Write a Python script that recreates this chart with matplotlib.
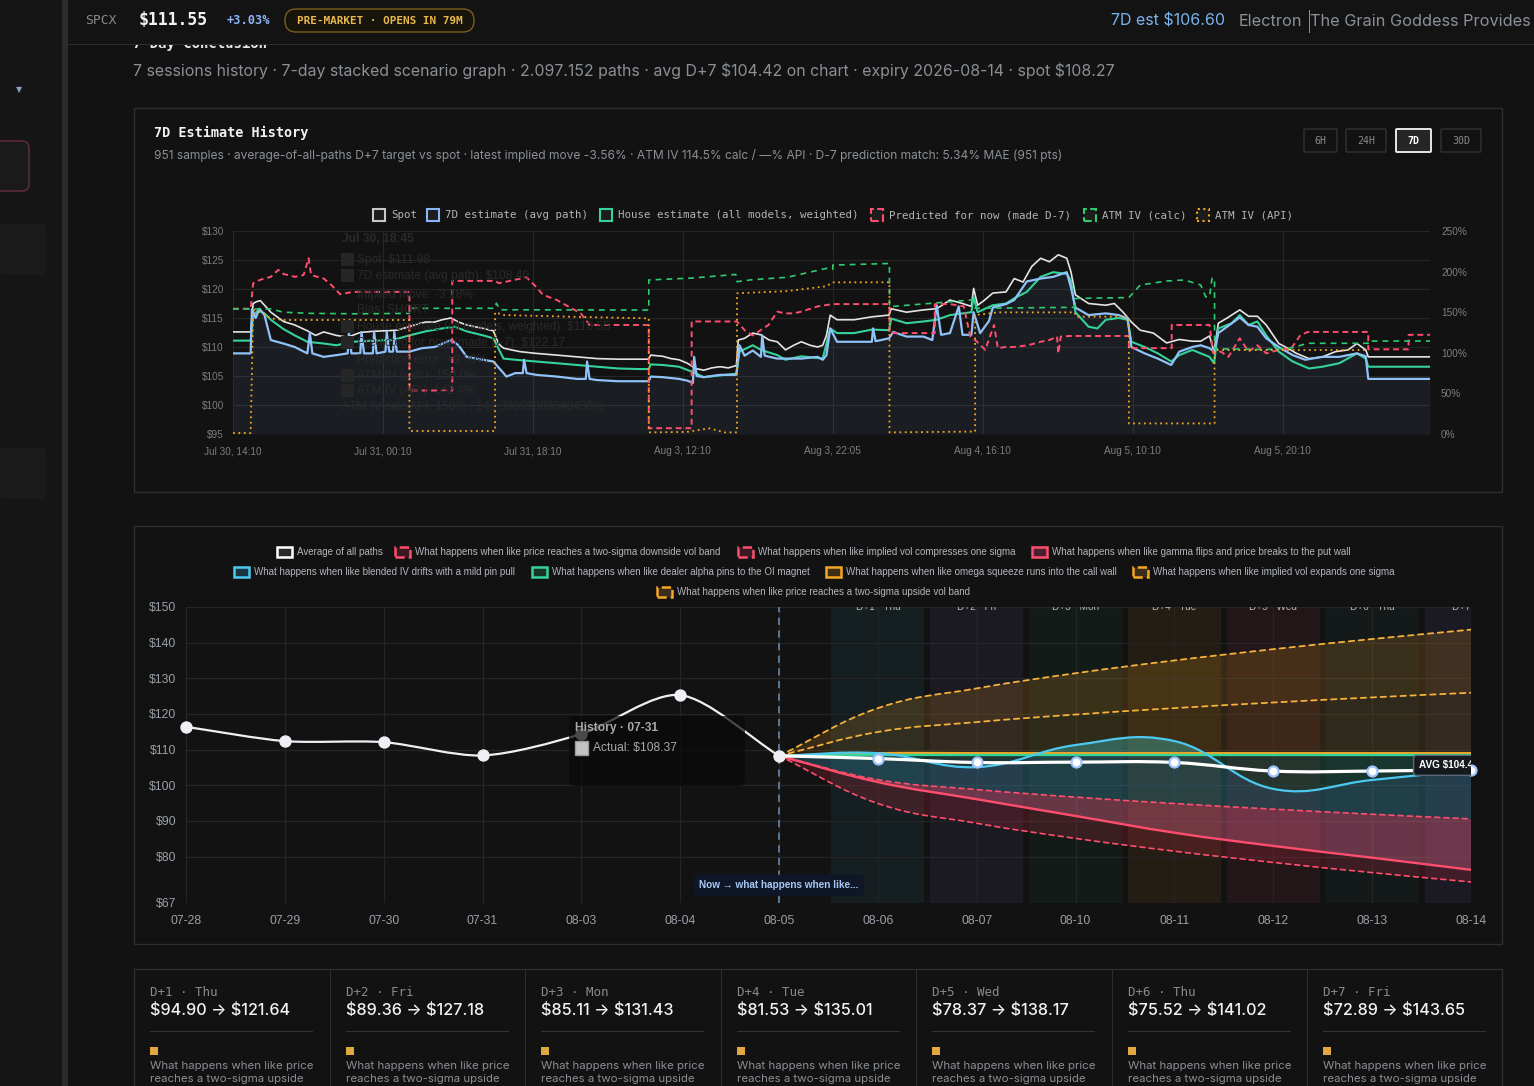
import matplotlib
matplotlib.use('Agg')
import matplotlib.pyplot as plt
from matplotlib.patches import Rectangle, FancyBboxPatch, PathPatch
from matplotlib.path import Path
from matplotlib.transforms import IdentityTransform

# ---------------- DATA ----------------
# Chart 1: 7D estimate history (sample index, value)
x1_ticks = [0, 119, 238, 357, 476, 595, 714, 833]
x1_labels = ['Jul 30, 14:10', 'Jul 31, 00:10', 'Jul 31, 18:10', 'Aug 3, 12:10',
             'Aug 3, 22:05', 'Aug 4, 16:10', 'Aug 5, 10:10', 'Aug 5, 20:10']
y1_ticks = [95, 100, 105, 110, 115, 120, 125, 130]
y1r_ticks = [0, 50, 100, 150, 200, 250]

spot = [(0, 112.6), (14, 112.6), (16, 117.5), (18.5, 117.8), (21.7, 118.0), (25, 117.2), (30, 116.0),
        (40, 114.4), (49, 113.8), (59, 112.8), (65.5, 112.0), (72, 112.6), (82, 112.0), (91, 111.7),
        (101, 112.5), (111, 112.7), (121, 112.8), (130, 112.9), (140, 113.5), (147, 114.0), (153, 114.3),
        (160, 114.3), (166, 114.7), (173, 115.0), (179, 114.3), (185.5, 113.8), (192, 113.5), (198.5, 113.2),
        (206.6, 112.8), (211, 110.5), (214.7, 109.8), (221, 109.5), (227.7, 109.2), (240.6, 108.9),
        (257, 108.6), (273, 108.3), (289, 108.0), (305.5, 107.9), (321.7, 107.9), (330, 107.9),
        (331.4, 108.6), (341, 108.4), (347.6, 108.0), (354, 107.8), (360.6, 107.2), (367, 106.3),
        (373.6, 106.0), (380, 106.4), (386.6, 106.6), (393, 106.4), (399.5, 106.8), (401, 111.2),
        (406, 111.5), (412.5, 112.4), (419, 112.1), (425.5, 111.2), (432, 110.9), (438.5, 109.5),
        (445, 110.3), (451, 110.9), (458, 110.3), (464, 110.0), (468, 110.3), (471, 112.0), (474, 115.5),
        (479.4, 114.7), (493, 114.7), (507, 115.2), (520.7, 115.5), (522.4, 116.6), (534.5, 116.0),
        (548, 116.4), (558.5, 116.6), (569, 118.1), (579, 117.5), (586, 117.0), (587.8, 120.1),
        (591, 117.2), (596, 118.0), (603, 119.3), (613.5, 119.5), (620, 121.8), (627, 121.2),
        (634, 123.9), (641, 125.3), (648, 124.7), (655, 125.9), (661.7, 125.3), (665, 123.0),
        (668.6, 119.0), (679, 117.5), (692.7, 117.2), (699.5, 117.5), (706.4, 116.0), (713, 114.3),
        (720, 112.9), (730.5, 112.4), (741, 110.7), (751, 111.3), (761.4, 111.0), (768, 111.0),
        (775, 111.9), (778.6, 109.2), (782, 114.1), (789, 115.0), (799, 116.4), (806, 115.3),
        (813, 115.3), (820, 113.8), (830, 110.6), (837, 109.8), (844, 108.9), (854, 108.0),
        (864.6, 108.3), (875, 109.2), (885, 109.5), (892, 110.6), (899, 109.5), (901, 108.3), (950, 108.3)]

est7d = [(0, 108.9), (14, 108.9), (15, 116.5), (18, 115.0), (21, 116.6), (25, 115.5), (30, 111.2),
         (40, 110.6), (49, 110.0), (59, 108.9), (61, 112.4), (63, 108.9), (72, 108.3), (82, 108.6),
         (91, 108.9), (92, 112.6), (94, 108.9), (101, 108.9), (102, 112.6), (104, 108.9), (111, 108.9),
         (112, 112.6), (114, 108.9), (121, 109.2), (122, 112.6), (124, 109.2), (127, 109.2), (128, 112.6),
         (130, 109.2), (140, 109.2), (150, 109.8), (160, 110.0), (173, 111.2), (179, 110.3),
         (185.5, 108.3), (198.5, 107.8), (206.6, 107.5), (214.7, 105.5), (217, 104.9), (224, 105.5),
         (230, 105.5), (231, 107.8), (233, 105.5), (240.6, 105.2), (257, 104.9), (273, 104.5),
         (280, 104.5), (281, 107.5), (283, 104.5), (289, 104.3), (305.5, 104.1), (321.7, 104.1),
         (330, 104.1), (331.4, 104.9), (341, 104.8), (354, 104.5), (360.6, 104.2), (365, 103.8),
         (366, 108.3), (368, 105.0), (373.6, 104.8), (386.6, 105.2), (399.5, 105.2), (402, 110.3),
         (406, 108.5), (412.5, 109.4), (419, 108.3), (420, 112.0), (422, 108.5), (432, 108.0),
         (451, 108.0), (464, 108.3), (468, 107.8), (471, 108.6), (474, 113.2), (479.4, 110.9),
         (493, 110.9), (507, 110.9), (508, 113.2), (510, 111.0), (520.7, 111.5), (524, 112.6),
         (534.5, 111.8), (548, 111.8), (555, 111.2), (558.5, 117.2), (562, 112.1), (569, 112.4),
         (576, 117.0), (579, 112.1), (586, 112.1), (587.8, 116.0), (593, 112.4), (600, 114.5),
         (603, 116.8), (613.5, 117.4), (620, 118.1), (630, 121.3), (641, 121.8), (651, 122.1),
         (661.7, 122.9), (665, 120.3), (668.6, 116.8), (679, 115.5), (692.7, 115.8), (703, 115.5),
         (710, 114.9), (713, 110.0), (723.6, 108.9), (734, 108.0), (744.6, 106.9), (751, 109.2),
         (761.4, 110.0), (768, 110.3), (775, 109.8), (778.6, 109.2), (782, 112.4), (789, 113.5),
         (799, 115.1), (806, 113.8), (813, 113.5), (820, 111.5), (830, 110.0), (841, 108.6),
         (851, 107.8), (864.6, 108.3), (878, 108.3), (892, 108.9), (899, 108.4), (901, 104.5), (950, 104.5)]

house = [(0, 111.1), (14, 111.1), (16, 115.5), (20, 116.3), (25, 115.8), (30, 114.7), (40, 113.1),
         (49, 112.0), (59, 110.9), (72, 110.6), (82, 110.3), (95, 110.9), (111, 111.1), (127, 111.2),
         (140, 112.0), (153, 112.7), (166, 113.2), (176, 113.5), (185.5, 112.7), (198.5, 112.0),
         (206.6, 111.5), (214.7, 108.0), (224, 107.8), (240.6, 107.5), (257, 107.2), (273, 106.9),
         (289, 106.6), (305.5, 106.3), (321.7, 106.2), (330, 106.2), (331.4, 107.0), (341, 106.9),
         (354, 106.6), (367, 105.5), (373.6, 104.8), (386.6, 105.1), (399.5, 105.4), (402, 109.2),
         (412.5, 110.3), (419, 109.5), (432, 108.6), (438.5, 107.8), (451, 108.4), (464, 108.1),
         (468, 108.0), (474, 113.2), (479.4, 112.4), (493, 112.4), (507, 113.0), (520.7, 112.9),
         (522.4, 114.9), (534.5, 114.1), (548, 114.4), (558.5, 114.7), (569, 115.5), (586, 116.0),
         (587.8, 118.6), (591, 116.0), (603, 117.2), (613.5, 117.5), (620, 118.4), (630, 119.5),
         (641, 122.1), (651, 122.9), (661.7, 122.6), (665, 121.5), (668.6, 116.0), (679, 113.5),
         (686, 113.2), (692.7, 114.7), (703, 115.0), (710, 114.7), (713, 110.9), (723.6, 110.0),
         (734, 108.9), (744.6, 107.5), (751, 108.6), (761.4, 109.5), (768, 108.9), (775, 108.3),
         (778.6, 107.2), (782, 113.2), (792.6, 114.1), (799, 115.5), (806, 113.8), (813, 114.4),
         (820, 112.0), (830, 109.2), (841, 107.5), (854, 106.3), (864.6, 106.6), (878, 107.2),
         (892, 108.9), (899, 108.0), (901, 106.6), (950, 106.6)]

predicted = [(0, 116.6), (14, 116.6), (16, 121.0), (21.7, 121.6), (30, 122.1), (36, 123.3), (40, 122.6),
             (49, 122.1), (56, 122.4), (60, 125.3), (62, 122.4), (72, 121.8), (78, 120.7), (85, 119.1),
             (95, 119.5), (140, 119.5), (140, 102.5), (174, 102.5), (174, 121.4), (208, 121.4),
             (211, 121.0), (224, 121.6), (233, 122.0), (240, 120.5), (246, 119.0), (257, 118.1),
             (266, 117.0), (276, 115.8), (283, 113.8), (330, 113.8), (330, 96.0), (364, 96.0),
             (364, 114.4), (400, 114.4), (406, 112.9), (412.5, 112.0), (425, 113.8), (432, 116.1),
             (438, 115.8), (445, 115.8), (451, 116.1), (464, 117.0), (476, 117.4), (521, 117.4),
             (521, 112.4), (557, 112.4), (557, 117.4), (569, 117.4), (580, 117.0), (585, 111.9),
             (590, 111.0), (597, 109.5), (604, 113.8), (607, 109.8), (613, 110.0), (620, 110.0),
             (631, 110.3), (641, 110.9), (648, 111.2), (654, 111.8), (655, 108.9), (657, 111.8),
             (664, 111.9), (711, 111.9), (711, 109.8), (745, 109.8), (745, 113.8), (775, 113.8),
             (778, 108.9), (784, 109.2), (790, 108.3), (799, 111.5), (806, 109.2), (813, 110.3),
             (820, 108.9), (830, 109.5), (840, 109.8), (847, 112.0), (853, 112.6), (901, 112.6),
             (901, 109.6), (933, 109.6), (933, 112.1), (950, 112.1)]

atm_calc = [(0, 154), (30, 154), (40, 150), (60, 148.6), (100, 148), (140, 148.6), (140, 154.8),
            (208, 154.8), (209, 161), (212, 153), (330, 152.7), (330, 189.7), (364, 192), (399, 196.5),
            (400, 187.6), (412, 190), (440, 193), (471, 204), (476, 202.8), (476, 208), (521, 210),
            (521, 156.8), (586, 165), (589, 154.8), (668, 156), (669, 167), (711, 168), (720, 183.5),
            (741, 188.4), (755, 189.7), (768, 183.5), (772, 169), (775, 169), (777, 191.7), (779, 191.7),
            (779, 105), (820, 104), (840, 106), (853, 111.7), (901, 111.7), (901, 114.5), (950, 114.5)]

atm_api = [(0, 1.2), (14, 1.2), (16, 152.7), (22, 150), (30, 142.4), (40, 140.4), (140, 140.4),
           (140, 3.7), (208, 3.7), (208, 149.8), (215, 146.5), (280, 144), (330, 142.4), (330, 2),
           (360, 2.5), (378, 7), (390, 2), (400, 2), (400, 173.3), (440, 176), (471, 182),
           (476, 186.8), (521, 186.8), (521, 2), (589, 3), (589, 146.5), (607, 149.8), (668, 149.8),
           (669, 144.5), (711, 144.5), (711, 13), (779, 13), (779, 103.4), (901, 103.4)]

tip1_lines = ['Jul 30, 18:45', 'Spot: $111.98', '7D estimate (avg path): $108.40', 'Implied move: -3.18%',
              'Bias: SHORT', 'House estimate (all models, weighted): $110.55',
              'Predicted for now (made D-7): $122.17', 'Prediction error: +9.09%',
              'ATM IV (calc): 150.0%', 'ATM IV (API): 142.4%',
              'ATM IV calc/API: 150% / 142.39999389648438%']

# Chart 2: scenario graph
x2_labels = ['07-28', '07-29', '07-30', '07-31', '08-03', '08-04', '08-05',
             '08-06', '08-07', '08-10', '08-11', '08-12', '08-13', '08-14']
y2_ticks = [67, 80, 90, 100, 110, 120, 130, 140, 150]
history = [116.4, 112.4, 112.1, 108.37, 114.4, 125.3, 108.27]
fc_idx = [6, 7, 8, 9, 10, 11, 12, 13]
avg_path = [108.27, 107.5, 106.4, 106.5, 106.4, 104.0, 104.0, 104.42]
up2 = [108.27, 121.64, 127.18, 131.43, 135.01, 138.17, 141.02, 143.65]
up1 = [108.27, 114.96, 117.73, 119.85, 121.64, 123.22, 124.65, 125.96]
dn1 = [108.27, 101.58, 98.81, 96.69, 94.90, 93.32, 91.89, 90.58]
dn2 = [108.27, 94.90, 89.36, 85.11, 81.53, 78.37, 75.52, 72.89]
put_wall = [108.27, 100.9, 96.1, 91.4, 86.7, 83.0, 79.7, 76.3]
call_wall = [108.27, 109.0, 109.0, 109.0, 109.0, 109.0, 109.0, 109.0]
oi_magnet = [108.27, 108.5, 108.5, 108.5, 108.5, 108.5, 108.5, 108.5]
pin_pull = [108.27, 109.0, 105.1, 111.3, 112.4, 99.0, 101.5, 104.4]
day_names = ['Thu', 'Fri', 'Mon', 'Tue', 'Wed', 'Thu', 'Fri']

legend2 = [
    ('Average of all paths', 'avg'),
    ('What happens when like price reaches a two-sigma downside vol band', 'dn2'),
    ('What happens when like implied vol compresses one sigma', 'dn1'),
    ('What happens when like gamma flips and price breaks to the put wall', 'put'),
    ('What happens when like blended IV drifts with a mild pin pull', 'pin'),
    ('What happens when like dealer alpha pins to the OI magnet', 'oi'),
    ('What happens when like omega squeeze runs into the call wall', 'call'),
    ('What happens when like implied vol expands one sigma', 'up1'),
    ('What happens when like price reaches a two-sigma upside vol band', 'up2'),
]

# ---------------- FIGURE ----------------
W, H = 1534, 1086
BG = '#121212'
fig = plt.figure(figsize=(W / 100, H / 100), dpi=100, facecolor=BG)
ID = IdentityTransform()

SANS = ['Inter', 'DejaVu Sans']
ARIAL = ['Liberation Sans', 'DejaVu Sans']
MONO = ['DejaVu Sans Mono']


def pt(px):
    return px * 0.72


def T(x, y, s, size, color, family=ARIAL, weight='normal', ha='left', va='center', z=10, **kw):
    return fig.text(x / W, 1 - y / H, s, fontsize=pt(size), color=color, family=family,
                    weight=weight, ha=ha, va=va, zorder=z, parse_math=False, **kw)


def R(x0, y0, x1, y1, fc='none', ec='none', lw=1.0, ls='-', z=1, rnd=0, alpha=1.0):
    if rnd:
        p = FancyBboxPatch((x0, H - y1), x1 - x0, y1 - y0,
                           boxstyle=f'round,pad=0,rounding_size={rnd}',
                           transform=ID, fc=fc, ec=ec, lw=lw, ls=ls, zorder=z, alpha=alpha)
    else:
        p = Rectangle((x0, H - y1), x1 - x0, y1 - y0, transform=ID, fc=fc, ec=ec, lw=lw,
                      ls=ls, zorder=z, alpha=alpha)
    fig.patches.append(p)
    return p


# page chrome
R(0, 0, 62, H, fc='#161616', z=0)
R(62, 0, 68, H, fc='#2a2d30', z=0)
R(-20, 141, 29, 191, fc='#1a1a1a', ec='#5a2a3a', lw=1.2, rnd=7, z=1)
R(0, 224, 46, 275, fc='#1b1b1b', rnd=4, z=1)
R(0, 448, 46, 499, fc='#1b1b1b', rnd=4, z=1)
T(19, 90, '▼', 8, '#8aa0c0', family=['DejaVu Sans'], ha='center')

# "7-Day Conclusion" peeking out under the top bar
T(133, 44, '7-Day Conclusion', 14, '#e8e8e8', family=MONO, weight='bold', z=2)
R(68, 0, W, 44, fc='#131313', z=3)
R(68, 44, W, 45, fc='#2c2c2c', z=3)

T(85, 20, 'SPCX', 13, '#8a8a8a', family=MONO, z=11)
T(139, 20, '$111.55', 16.5, '#f2f2f2', family=MONO, weight='bold', z=11)
T(227, 21, '+3.03%', 12, '#8ab4f8', family=MONO, weight='bold', z=11)
R(285, 9, 474, 32, fc='#17140c', ec='#7a5e1c', lw=1.0, rnd=11, z=10)
T(379.5, 20.5, 'PRE-MARKET · OPENS IN 79M', 11, '#e8b84a', family=MONO, weight='bold', ha='center', z=11)
T(1225, 21, '7D est $106.60', 16.0, '#7ab3f0', family=SANS, ha='right', z=11)
T(1302, 21, 'Electron', 16.3, '#8a9099', family=SANS, ha='right', z=11)
R(1308.5, 10, 1310, 33, fc='#8a9099', z=11)
T(1531, 21, 'The Grain Goddess Provides', 16.3, '#8a9099', family=SANS, ha='right', z=11)

T(133, 71, '7 sessions history · 7-day stacked scenario graph · 2.097.152 paths · avg D+7 $104.42 on chart'
           ' · expiry 2026-08-14 · spot $108.27', 15.9, '#8b9096', family=SANS)

# ---------------- CHART 1 PANEL ----------------
R(134, 108, 1502, 492, fc='none', ec='#2e2e2e', lw=1.0, z=1)
T(154, 133, '7D Estimate History', 13.5, '#f2f2f2', family=MONO, weight='bold')
T(154, 155, '951 samples · average-of-all-paths D+7 target vs spot · latest implied move -3.56% · '
            'ATM IV 114.5% calc / —% API · D-7 prediction match: 5.34% MAE (951 pts)', 12.0, '#8b9096',
  family=SANS)
for (bx0, bx1, lab, act) in [(1304, 1337, '6H', False), (1346, 1386, '24H', False),
                             (1396, 1431, '7D', True), (1441, 1481, '30D', False)]:
    R(bx0, 129, bx1, 152, fc='#262626' if act else 'none', ec='#e8e8e8' if act else '#333333',
      lw=1.4 if act else 1.0, rnd=1, z=2)
    T((bx0 + bx1) / 2, 140.5, lab, 10, '#ffffff' if act else '#8a8a8a', family=MONO,
      weight='bold' if act else 'normal', ha='center')

# legend chart 1
leg1 = [(373, 391, 'Spot', '#c8c8c8', '-'), (427, 445, '7D estimate (avg path)', '#8ab4f8', '-'),
        (600, 618, 'House estimate (all models, weighted)', '#34d399', '-'),
        (871, 889, 'Predicted for now (made D-7)', '#ff4d6d', '--'),
        (1084, 1102, 'ATM IV (calc)', '#2ecc71', '--'), (1197, 1215, 'ATM IV (API)', '#f5a623', ':')]
for bx, tx, lab, col, ls in leg1:
    R(bx, 209, bx + 12, 221, fc='#1c1c1c', ec=col, lw=1.5, ls=ls, z=2)
    T(tx, 215, lab, 10.8, '#b4b4b4', family=MONO)

ax1 = fig.add_axes([233 / W, 1 - 434 / H, (1430 - 233) / W, (434 - 231) / H])
ax1.set_facecolor('none')
ax1.set_xlim(0, 950)
ax1.set_ylim(95, 130)
for s in ax1.spines.values():
    s.set_visible(False)
ax1.set_yticks(y1_ticks)
ax1.set_yticklabels([f'${v}' for v in y1_ticks])
ax1.set_xticks(x1_ticks)
ax1.set_xticklabels(x1_labels)
ax1.tick_params(axis='both', length=0, colors='#7e7e7e', labelsize=pt(10))
ax1.tick_params(axis='y', pad=pt(9))
ax1.tick_params(axis='x', pad=pt(12))
for lab in ax1.get_xticklabels() + ax1.get_yticklabels():
    lab.set_family(ARIAL)
ax1.grid(True, color='#262626', lw=0.8)
ax1.set_axisbelow(True)


def unz(pairs):
    return [p[0] for p in pairs], [p[1] for p in pairs]


ex, ey = unz(est7d)
ax1.fill_between(ex, ey, 95, color='#8ab4f8', alpha=0.075, lw=0, zorder=1)
# faded tooltip behind
tip_y = [239, 260, 276, 295, 310, 327, 343, 360, 376, 391, 407]
for i, (ty, txt) in enumerate(zip(tip_y, tip1_lines)):
    xx = 342 if i in (0, 10) else 357
    fig.text(xx / W, 1 - ty / H, txt, fontsize=pt(12), color='#2a2a2a', family=ARIAL,
             weight='bold' if i == 0 else 'normal', va='center', zorder=0.5, parse_math=False)
    if i not in (0, 10, 3, 4, 7):
        R(341, ty - 7, 354, ty + 6, fc='#262626', z=0.5)

sx, sy = unz(spot)
hx, hy = unz(house)
px_, py_ = unz(predicted)
ax1.plot(sx, sy, color='#e4e4e4', lw=1.2, zorder=3)
ax1.plot(hx, hy, color='#34d399', lw=1.5, zorder=3)
ax1.plot(ex, ey, color='#90c2f9', lw=1.6, zorder=4)
ax1.plot(px_, py_, color='#ff4d6d', lw=1.4, ls=(0, (3, 2)), zorder=5)

ax1r = ax1.twinx()
ax1r.set_ylim(0, 250)
ax1r.set_facecolor('none')
for s in ax1r.spines.values():
    s.set_visible(False)
ax1r.set_yticks(y1r_ticks)
ax1r.set_yticklabels([f'{v}%' for v in y1r_ticks])
ax1r.tick_params(axis='y', length=0, colors='#7e7e7e', labelsize=pt(10), pad=pt(11))
for lab in ax1r.get_yticklabels():
    lab.set_family(ARIAL)
cx, cy = unz(atm_calc)
ax_, ay_ = unz(atm_api)
ax1r.plot(cx, cy, color='#2ecc71', lw=1.2, ls=(0, (3.5, 3)), zorder=3)
ax1r.plot(ax_, ay_, color='#f5a623', lw=1.3, ls=(0, (1, 2)), zorder=3)

# ---------------- CHART 2 PANEL ----------------
R(134, 526, 1502, 944, fc='none', ec='#2e2e2e', lw=1.0, z=1)

leg2_pos = [(277, 552), (395, 552), (738, 552), (1032, 552),
            (234, 572), (532, 572), (826, 572), (1133, 572), (657, 592)]
leg2_style = {
    'avg': ('#ffffff', '#2a2a2a', '-'), 'dn2': ('#ff4d6d', '#3a1a22', '--'),
    'dn1': ('#ff4d6d', '#3a1a22', '--'), 'put': ('#ff4d6d', '#4a2030', '-'),
    'pin': ('#4cc9f0', '#1a3440', '-'), 'oi': ('#34d399', '#183528', '-'),
    'call': ('#f5a623', '#3e2e14', '-'), 'up1': ('#f5a623', '#3a2e1a', '--'),
    'up2': ('#f5a623', '#3a2e1a', '--')}
for (lab, key), (lx, ly) in zip(legend2, leg2_pos):
    ec, fcc, ls = leg2_style[key]
    R(lx, ly - 5, lx + 15, ly + 5, fc=fcc, ec=ec, lw=1.8, ls=ls, z=2)
    T(lx + 20, ly, lab, 9.8, '#b2b6bd', family=ARIAL)

ax2 = fig.add_axes([186 / W, 1 - 903 / H, (1471 - 186) / W, (903 - 607) / H])
ax2.set_facecolor('none')
ax2.set_xlim(0, 13)
ax2.set_ylim(67, 150)
for s in ax2.spines.values():
    s.set_visible(False)
ax2.set_yticks(y2_ticks)
ax2.set_yticklabels([f'${v}' for v in y2_ticks])
ax2.set_xticks(range(len(x2_labels)))
ax2.set_xticklabels(x2_labels)
ax2.tick_params(axis='both', length=0, colors='#9aa0a8', labelsize=pt(12.3))
ax2.tick_params(axis='y', pad=pt(10))
ax2.tick_params(axis='x', pad=pt(12.5))
for lab in ax2.get_xticklabels() + ax2.get_yticklabels():
    lab.set_family(ARIAL)
ax2.grid(True, color='#252525', lw=0.9, zorder=0.8)
ax2.set_axisbelow(True)

band_cols = [(0.30, 0.79, 0.94, 0.065), (0.59, 0.47, 1.0, 0.07), (0.20, 0.83, 0.60, 0.05),
             (0.96, 0.65, 0.14, 0.08), (1.0, 0.30, 0.43, 0.075), (0.30, 0.79, 0.94, 0.04),
             (0.59, 0.47, 1.0, 0.07)]
for k in range(7):
    c = fc_idx[k + 1]
    ax2.axvspan(c - 0.47, c + 0.47, color=band_cols[k], lw=0, zorder=0.5)
    ax2.text(c, 150, f'D+{k + 1} · {day_names[k]}', ha='center', va='center', fontsize=pt(10),
             color='#b8b8b8', family=ARIAL, clip_on=True, zorder=6)


def ctrl(xs, ys, t=0.4):
    n = len(xs)
    cin, cout = [], []
    for i in range(n):
        p = (xs[i], ys[i])
        pp = (xs[i - 1], ys[i - 1]) if i > 0 else p
        pn = (xs[i + 1], ys[i + 1]) if i < n - 1 else p
        fa = t / 2 if (i > 0 and i < n - 1) else (0 if i == 0 else t)
        fb = t / 2 if (i > 0 and i < n - 1) else (t if i == 0 else 0)
        dx, dy = pn[0] - pp[0], pn[1] - pp[1]
        cin.append((p[0] - fa * dx, p[1] - fa * dy))
        cout.append((p[0] + fb * dx, p[1] + fb * dy))
    return cin, cout


def curve_verts(xs, ys, reverse=False, t=0.4):
    cin, cout = ctrl(xs, ys, t)
    n = len(xs)
    v, c = [], []
    if not reverse:
        v.append((xs[0], ys[0])); c.append(Path.MOVETO)
        for i in range(n - 1):
            v += [cout[i], cin[i + 1], (xs[i + 1], ys[i + 1])]
            c += [Path.CURVE4] * 3
    else:
        v.append((xs[-1], ys[-1])); c.append(Path.LINETO)
        for i in range(n - 1, 0, -1):
            v += [cin[i], cout[i - 1], (xs[i - 1], ys[i - 1])]
            c += [Path.CURVE4] * 3
    return v, c


def sline(ax, xs, ys, t=0.4, **kw):
    v, c = curve_verts(xs, ys, t=t)
    ax.add_patch(PathPatch(Path(v, c), fc='none', capstyle='round', **kw))


def sfill(ax, xs, ya, yb, color, alpha, z=1):
    v1, c1 = curve_verts(xs, ya)
    v2, c2 = curve_verts(xs, yb, reverse=True)
    v = v1 + v2 + [(xs[0], ya[0])]
    c = c1 + c2 + [Path.CLOSEPOLY]
    ax.add_patch(PathPatch(Path(v, c), fc=color, ec='none', alpha=alpha, zorder=z))


sfill(ax2, fc_idx, up2, up1, '#f5a623', 0.17)
sfill(ax2, fc_idx, up1, call_wall, '#f5a623', 0.12)
sfill(ax2, fc_idx, pin_pull, dn1, '#4cc9f0', 0.22)
sfill(ax2, fc_idx, oi_magnet, pin_pull, '#34d399', 0.16)
sfill(ax2, fc_idx, dn1, put_wall, '#ff6b9a', 0.36)
sfill(ax2, fc_idx, put_wall, dn2, '#ff3355', 0.17)

dash = (0, (3, 2.5))
sline(ax2, fc_idx, up2, ec='#f5b13a', lw=1.3, ls=dash, zorder=2)
sline(ax2, fc_idx, up1, ec='#f5b13a', lw=1.3, ls=dash, zorder=2)
sline(ax2, fc_idx, dn1, ec='#ff4d6d', lw=1.2, ls=dash, zorder=2)
sline(ax2, fc_idx, dn2, ec='#ff4d6d', lw=1.2, ls=dash, zorder=2)
sline(ax2, fc_idx, put_wall, ec='#ff4d6d', lw=1.7, zorder=2.2)
sline(ax2, fc_idx, call_wall, ec='#f5a623', lw=1.7, zorder=2.2)
sline(ax2, fc_idx, oi_magnet, ec='#34d399', lw=1.7, zorder=2.3)
sline(ax2, fc_idx, pin_pull, ec='#4cc9f0', lw=1.6, zorder=2.4)

ax2.axvline(6, color='#5f7f9f', lw=1.3, ls=(0, (4, 3)), zorder=2.5)

hx2 = list(range(len(history)))
sline(ax2, hx2, history, t=0.28, ec='#f0f0f4', lw=1.6, zorder=3)
sline(ax2, fc_idx, avg_path, ec='#ffffff', lw=2.3, zorder=3)
ax2.plot(hx2, history, 'o', ms=pt(11), mfc='#eef0f6', mec='#eef0f6', zorder=4, clip_on=False)
ax2.plot(fc_idx[1:], avg_path[1:], 'o', ms=pt(10), mfc='#ffffff', mec='#9ec3ff', mew=1.6,
         zorder=4, clip_on=False)

ax2.text(12.47, 105.6, 'AVG $104.42', fontsize=pt(10), color='#ffffff', weight='bold',
         family=ARIAL, va='center', ha='left', clip_on=True, zorder=5,
         bbox=dict(boxstyle='round,pad=0.5,rounding_size=0.3', fc='#16191e', ec='#5a6878', lw=1.0))
ax2.text(6, 72.0, 'Now → what happens when like...', fontsize=pt(10), color='#a8c8f4',
         weight='bold', family=ARIAL, ha='center', va='center', zorder=5,
         bbox=dict(boxstyle='round,pad=0.55,rounding_size=0.4', fc='#0e1628', ec='none'))

# tooltip over chart 2
R(569, 716, 745, 786, fc='#090909', ec='none', rnd=6, z=20, alpha=0.72)
T(575, 728, 'History · 07-31', 12, '#a8a8a8', weight='bold', z=21)
R(575, 741, 588, 755, fc='#c4c4c4', ec='#9a9a9a', lw=1, z=21)
T(593, 748, f'Actual: ${history[3]:.2f}', 12, '#a8a8a8', z=21)

# ---------------- CARDS ----------------
R(134, 969, 1502, 1100, fc='none', ec='#2e2e2e', lw=1.0, z=1)
card_left = [134, 330, 525, 721, 916, 1112, 1307]
for k in range(7):
    cl = card_left[k]
    if k > 0:
        R(cl, 969, cl + 1, H, fc='#2e2e2e', z=2)
    T(cl + 16, 992, f'D+{k + 1} · {day_names[k]}', 12.5, '#8a8a8a', family=MONO)
    T(cl + 16, 1010, f'${dn2[k + 1]:.2f} → ${up2[k + 1]:.2f}', 16.2, '#f2f2f2', family=SANS,
      weight='medium')
    R(cl + 16, 1031, cl + 179, 1032, fc='#333333', z=2)
    R(cl + 16, 1047, cl + 24, 1055, fc='#e0a83e', z=2)
    T(cl + 16, 1066, 'What happens when like price', 11.5, '#8a8f96', family=SANS)
    T(cl + 16, 1079, 'reaches a two-sigma upside', 11.5, '#8a8f96', family=SANS)

fig.savefig('out.png', dpi=100, facecolor=BG)
